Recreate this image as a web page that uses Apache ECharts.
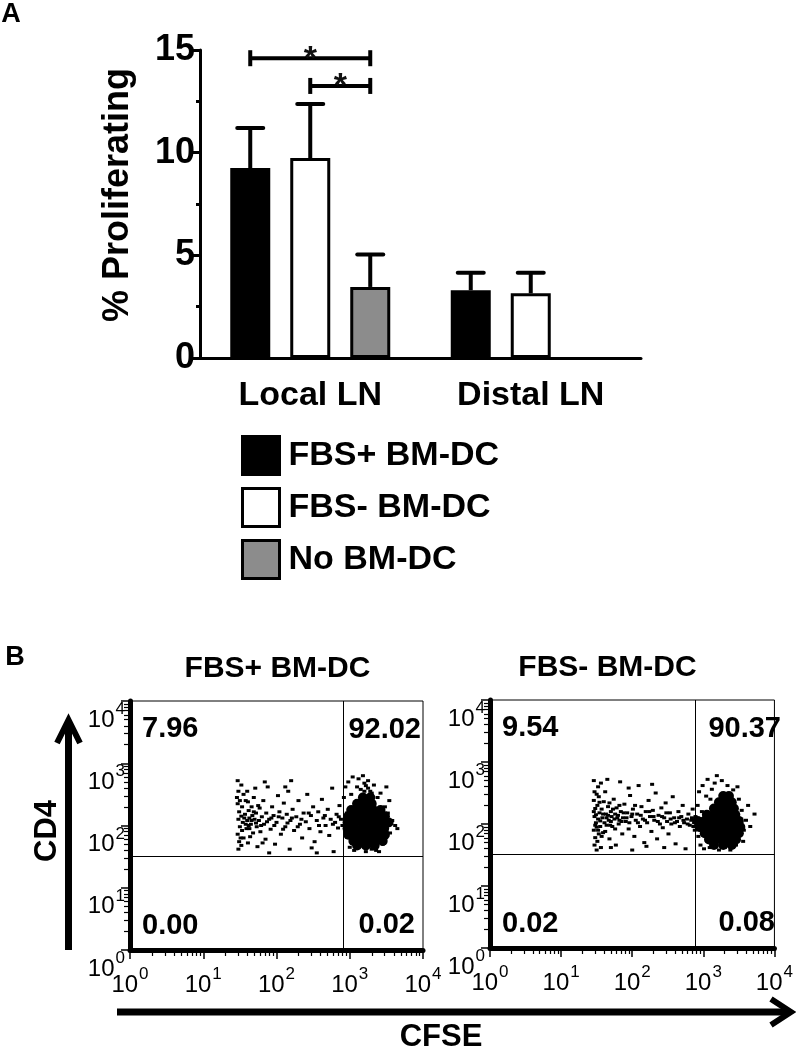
<!DOCTYPE html>
<html>
<head>
<meta charset="utf-8">
<script src="https://cdn.jsdelivr.net/npm/echarts@6/dist/echarts.min.js"></script>
<style>html,body{margin:0;padding:0;background:#fff}#c{width:796px;height:1050px}</style>
</head>
<body>
<div id="c"></div>
<script>
// ---------------- DATA ----------------
const categories = ['Local LN', 'Distal LN'];
const seriesNames = ['FBS+ BM-DC', 'FBS- BM-DC', 'No BM-DC'];
const fbsPlusMean = [9.25, 3.30];
const fbsPlusSem = [1.95, 0.85];
const fbsMinusMean = [9.74, 3.15];
const fbsMinusSem = [2.63, 1.00];
const noDcMean = [3.46, null];
const noDcSem = [1.58, null];
// [category index, bracket height, from bar, to bar]
const sigBrackets = [[0, 14.6, 0, 2], [0, 13.25, 1, 2]];
const yTicksA = [0, 5, 10, 15];

// flow cytometry panels (log10 CFSE, log10 CD4)
const flowTitles = ['FBS+ BM-DC', 'FBS- BM-DC'];
const fbsPlusQuad = ['7.96', '92.02', '0.00', '0.02'];
const fbsMinusQuad = ['9.54', '90.37', '0.02', '0.08'];
const fbsPlusGate = [2.91, 1.51];
const fbsMinusGate = [2.89, 1.51];

const fbsPlusEvents = [
 [1.47,2.72],[1.48,2.55],[1.47,2.35],[1.49,2.22],[1.48,2.10],[1.50,1.98],[1.47,1.86],[1.49,1.74],[1.48,1.62],[1.52,2.65],
 [1.53,2.30],[1.52,2.15],[1.54,2.05],[1.53,1.92],[1.55,1.80],[1.52,1.68],[1.58,2.40],[1.57,2.18],[1.60,2.08],[1.59,1.95],
 [1.62,2.24],[1.63,2.12],[1.61,1.72],[1.65,2.02],[1.66,2.30],[1.67,2.16],[1.68,1.88],[1.70,2.10],[1.71,2.60],[1.72,2.20],
 [1.73,1.98],[1.74,1.66],[1.60,2.55],[1.64,1.82],[1.69,2.45],[1.76,2.08],[1.77,2.28],[1.78,1.90],[1.56,2.12],[1.62,2.00],
 [1.80,2.14],[1.82,2.40],[1.83,2.02],[1.85,1.78],[1.86,2.20],[1.88,2.62],[1.90,2.10],[1.92,1.94],[1.94,2.30],[1.96,2.16],
 [1.98,1.70],[2.00,2.05],[2.02,2.48],[2.04,2.22],[2.06,1.86],[2.08,2.12],[2.10,2.36],[2.12,1.98],[2.14,2.18],[2.16,2.55],
 [2.18,1.62],[2.19,2.08],[2.22,2.26],[2.24,1.92],[2.27,2.14],[2.30,2.40],[2.32,2.02],[2.35,1.80],[2.37,2.20],[2.40,2.06],
 [2.42,2.50],[2.45,1.95],[2.47,2.16],[2.50,2.30],[2.52,1.74],[2.55,2.08],[2.57,2.22],[2.60,1.90],[2.62,2.42],[2.64,2.12],
 [2.67,2.00],[2.70,2.26],[2.72,1.84],[2.74,2.10],[2.76,2.60],[2.78,1.58],[2.80,2.05],[2.82,2.18],[2.84,1.96],[2.86,2.32],
 [2.88,2.10],[1.90,1.56],[2.55,1.56],[1.84,2.70],[2.20,2.72],
 [1.46,2.45],[1.50,2.40],[1.51,1.80],[1.55,2.50],[1.58,2.02],[1.61,2.38],[1.63,1.95],[1.66,2.08],[1.69,2.22],[1.72,2.04],
 [1.75,2.32],[1.79,2.00],[1.81,1.72],[1.87,2.06],[1.93,2.12],[1.97,2.00],[2.03,2.14],[2.09,1.94],[2.15,2.04],[2.21,2.12],
 [2.29,1.98],[2.34,2.10],[2.44,2.20],[2.58,2.00],[2.66,2.16],[2.77,2.02],[2.85,2.14],[2.90,2.00],[2.48,1.64],[2.12,2.62],
 [2.92,2.45],[2.94,2.62],[2.95,1.85],[2.96,2.20],[2.98,2.70],[3.00,1.65],[3.02,2.50],[3.04,2.78],[3.06,1.60],[3.10,2.62],
 [3.12,2.75],[3.15,2.58],[3.18,2.80],[3.20,2.68],[3.22,1.58],[3.25,2.72],[3.28,2.55],[3.30,1.62],[3.33,2.65],[3.36,1.60],
 [3.38,2.45],[3.42,2.52],[3.45,1.70],[3.48,2.30],[3.52,2.20],[3.55,1.88],[3.58,2.08],[3.62,2.00],[3.50,2.62],[3.40,1.58],
 [3.65,1.95],[3.08,1.72],[2.97,1.95],[3.54,2.40],[3.20,2.55],[3.25,2.60],[3.30,2.52],[3.22,2.64]
];
const fbsPlusCore = [
 [3.05,1.75],[3.15,1.75],[3.25,1.75],[3.35,1.75],[3.45,1.75],
 [2.98,1.85],[3.08,1.85],[3.18,1.85],[3.28,1.85],[3.38,1.85],[3.48,1.85],
 [2.97,1.95],[3.07,1.95],[3.17,1.95],[3.27,1.95],[3.37,1.95],[3.47,1.95],
 [2.97,2.05],[3.07,2.05],[3.17,2.05],[3.27,2.05],[3.37,2.05],[3.47,2.05],[3.53,2.05],
 [2.98,2.15],[3.08,2.15],[3.18,2.15],[3.28,2.15],[3.38,2.15],[3.48,2.15],
 [3.02,2.25],[3.12,2.25],[3.22,2.25],[3.32,2.25],[3.42,2.25],
 [3.10,2.35],[3.20,2.35],[3.30,2.35],[3.18,2.45],[3.28,2.45],
 [3.10,1.68],[3.22,1.68],[3.34,1.68]
];
const fbsMinusEvents = [
 [1.46,2.70],[1.47,2.52],[1.46,2.38],[1.48,2.25],[1.47,2.12],[1.49,2.02],[1.46,1.90],[1.48,1.78],[1.47,1.66],[1.50,1.58],
 [1.52,2.60],[1.53,2.44],[1.51,2.30],[1.54,2.18],[1.52,2.08],[1.55,1.96],[1.53,1.84],[1.51,1.72],[1.56,2.66],[1.57,2.24],
 [1.58,2.10],[1.56,1.62],[1.49,2.15],[1.50,1.95],[1.55,2.05],[1.59,1.86],
 [1.60,2.36],[1.61,2.02],[1.62,1.88],[1.63,2.16],[1.65,2.72],[1.66,2.28],[1.67,2.06],[1.68,1.76],[1.70,2.20],[1.71,2.12],
 [1.72,1.96],[1.74,2.40],[1.75,2.08],[1.77,1.66],[1.78,2.26],[1.80,2.14],[1.81,2.00],[1.83,2.68],[1.84,2.20],[1.86,1.84],
 [1.87,2.10],[1.89,2.32],[1.64,2.10],[1.69,1.98],[1.76,2.16],[1.82,2.06],
 [1.91,2.04],[1.93,2.18],[1.95,1.92],[1.97,2.46],[1.99,2.12],[2.01,2.24],[2.03,1.80],[2.05,2.06],[2.07,2.16],[2.09,2.62],
 [2.11,1.96],[2.13,2.28],[2.15,2.08],[2.17,1.70],[2.19,2.20],[2.21,2.02],[2.23,2.38],[2.25,2.12],[2.27,1.88],[2.29,2.22],
 [2.31,2.06],[2.33,2.50],[2.35,1.76],[2.37,2.14],[2.39,2.00],
 [2.41,2.26],[2.43,1.94],[2.45,2.10],[2.47,2.34],[2.49,2.04],[2.51,1.84],[2.53,2.18],[2.55,2.00],[2.57,2.44],[2.59,2.10],
 [2.61,1.68],[2.63,2.04],[2.65,2.20],[2.67,1.96],[2.69,2.12],[2.71,2.30],[2.73,2.02],[2.75,1.60],[2.77,2.08],[2.79,2.16],
 [2.81,1.98],[2.83,2.06],[2.85,2.24],[2.87,2.02],[2.88,1.90],[2.89,2.12],[2.00,1.58],[2.45,1.62],[1.95,2.58],[2.28,2.64],
 [1.46,2.20],[1.48,1.98],[1.50,2.48],[1.52,1.90],[1.54,2.35],[1.57,1.80],[1.59,2.16],[1.62,2.52],[1.64,1.98],[1.66,2.14],
 [1.68,2.34],[1.70,2.04],[1.73,2.24],[1.76,1.92],[1.79,2.10],[1.82,2.30],[1.85,2.04],[1.88,2.18],[1.92,2.10],[1.96,2.02],
 [2.00,2.16],[2.04,2.30],[2.08,2.02],[2.12,2.14],[2.18,2.06],[2.24,2.20],[2.30,2.12],[2.36,2.04],[2.42,2.12],[2.48,2.18],
 [2.54,2.08],[2.60,2.02],[2.66,2.10],[2.72,2.06],[2.78,2.00],[2.84,2.10],[2.86,1.96],[2.90,2.04],[1.70,1.62],[2.20,1.64],
 [2.92,2.30],[2.94,2.52],[2.93,1.80],[2.96,1.66],[2.99,2.62],[3.01,1.60],[3.04,2.45],[3.06,2.72],[3.09,1.62],[3.12,2.56],
 [3.16,2.66],[3.19,2.78],[3.22,1.58],[3.26,2.70],[3.30,1.62],[3.34,2.62],[3.38,1.58],[3.42,2.55],[3.46,1.66],[3.50,2.40],
 [3.54,2.22],[3.57,1.90],[3.60,2.06],[3.63,2.30],[3.66,1.96],[3.72,2.16],[3.56,1.72],[3.48,2.60],[3.10,2.40],[2.98,2.20]
];
const fbsMinusCore = [
 [3.08,1.75],[3.18,1.75],[3.28,1.75],[3.38,1.75],[3.46,1.75],
 [3.02,1.85],[3.12,1.85],[3.22,1.85],[3.32,1.85],[3.42,1.85],[3.50,1.85],
 [2.95,1.95],[3.05,1.95],[3.15,1.95],[3.25,1.95],[3.35,1.95],[3.45,1.95],[3.52,1.95],
 [2.92,2.05],[3.02,2.05],[3.12,2.05],[3.22,2.05],[3.32,2.05],[3.42,2.05],[3.50,2.05],
 [3.05,2.15],[3.15,2.15],[3.25,2.15],[3.35,2.15],[3.45,2.15],
 [3.15,2.25],[3.25,2.25],[3.35,2.25],[3.43,2.25],
 [3.22,2.35],[3.32,2.35],[3.40,2.35],[3.28,2.45],[3.36,2.45],
 [3.15,1.66],[3.28,1.66],[3.40,1.66]
];

// ---------------- LAYOUT / STYLE ----------------
const FONT = "'Liberation Sans', Arial, Helvetica, sans-serif";
const BAR_W = 40, BAR_GAP = 0.5;
const barOffset = k => (k - 1) * BAR_W * (1 + BAR_GAP);
const GA = {left: 200, top: 50, width: 441, height: 308};
const G1 = {left: 130, top: 701, width: 293, height: 249};
const G2 = {left: 490, top: 700, width: 293, height: 248};
const minorLog = [];
for (let d = 0; d < 4; d++) for (let k = 2; k <= 9; k++) minorLog.push(d + Math.log10(k));

const chart = echarts.init(document.getElementById('c'), null, {renderer: 'canvas'});

const supRich = {
  b: {fontSize: 24, fontFamily: FONT, color: '#000', lineHeight: 31, verticalAlign: 'bottom'},
  s: {fontSize: 17, fontFamily: FONT, color: '#000', lineHeight: 17, verticalAlign: 'top', padding: [0, 0, 0, 1]}
};
const supFmt = v => '{b|10}{s|' + Math.round(v) + '}';

function flowAxes(gi) {
  const x = [
    {gridIndex: gi, type: 'value', min: 0, max: 4, interval: 1, position: 'bottom',
     axisLine: {onZero: false, lineStyle: {color: '#000', width: 5}},
     axisTick: {length: 9, lineStyle: {color: '#000', width: 1.5}},
     axisLabel: {margin: 16, formatter: supFmt, rich: supRich, color: '#000', fontSize: 24, fontFamily: FONT},
     splitLine: {show: false}},
    {gridIndex: gi, type: 'value', min: 0, max: 4, position: 'bottom',
     axisLine: {show: false}, axisLabel: {show: false}, splitLine: {show: false},
     axisTick: {show: true, customValues: minorLog, length: 6, lineStyle: {color: '#000', width: 1.2}}}
  ];
  const y = [
    {gridIndex: gi, type: 'value', min: 0, max: 4, interval: 1, position: 'left',
     axisLine: {onZero: false, lineStyle: {color: '#000', width: 5}},
     axisTick: {length: 9, lineStyle: {color: '#000', width: 1.5}},
     axisLabel: {margin: 5, formatter: supFmt, rich: supRich, color: '#000', fontSize: 24, fontFamily: FONT, verticalAlign: 'top'},
     splitLine: {show: false}},
    {gridIndex: gi, type: 'value', min: 0, max: 4, position: 'left',
     axisLine: {show: false}, axisLabel: {show: false}, splitLine: {show: false},
     axisTick: {show: true, customValues: minorLog, length: 6, lineStyle: {color: '#000', width: 1.2}}}
  ];
  return {x, y};
}
const f1 = flowAxes(1), f2 = flowAxes(2);

const barColors = ['#000000', '#ffffff', '#8c8c8c'];
const means = [fbsPlusMean, fbsMinusMean, noDcMean];
const sems = [fbsPlusSem, fbsMinusSem, noDcSem];

const barSeries = seriesNames.map((n, k) => ({
  type: 'bar', name: n, xAxisIndex: 0, yAxisIndex: 0,
  data: means[k], barWidth: BAR_W, barGap: (BAR_GAP * 100) + '%',
  itemStyle: {color: barColors[k], borderColor: '#000', borderWidth: 3},
  silent: true, z: 2
}));

const errSeries = seriesNames.map((n, k) => ({
  type: 'custom', xAxisIndex: 0, yAxisIndex: 0, silent: true, z: 3,
  data: means[k].map((m, i) => m == null ? null : [i, m, sems[k][i]]).filter(d => d),
  encode: {x: 0, y: 1},
  renderItem: (p, api) => {
    const i = api.value(0), m = api.value(1), s = api.value(2);
    const base = api.coord([i, m]), top = api.coord([i, m + s]);
    const x = base[0] + barOffset(k);
    return {type: 'group', children: [
      {type: 'line', shape: {x1: x, y1: base[1], x2: x, y2: top[1]}, style: {stroke: '#000', lineWidth: 4}},
      {type: 'line', shape: {x1: x - 13, y1: top[1], x2: x + 13, y2: top[1]}, style: {stroke: '#000', lineWidth: 4, lineCap: 'round'}}
    ]};
  }
}));

const sigSeries = {
  type: 'custom', xAxisIndex: 0, yAxisIndex: 0, silent: true, z: 4,
  data: sigBrackets, encode: {x: 0, y: 1},
  renderItem: (p, api) => {
    const c = api.coord([api.value(0), api.value(1)]);
    const x1 = c[0] + barOffset(api.value(2)), x2 = c[0] + barOffset(api.value(3)), y = c[1];
    const xm = (x1 + x2) / 2;
    return {type: 'group', children: [
      {type: 'line', shape: {x1, y1: y, x2, y2: y}, style: {stroke: '#000', lineWidth: 4}},
      {type: 'line', shape: {x1, y1: y - 8, x2: x1, y2: y + 8}, style: {stroke: '#000', lineWidth: 4}},
      {type: 'line', shape: {x1: x2, y1: y - 8, x2, y2: y + 8}, style: {stroke: '#000', lineWidth: 4}},
      {type: 'text', x: xm, y: y + 1, style: {text: '*', font: 'bold 34px ' + FONT, fill: '#111',
        align: 'center', verticalAlign: 'middle', textAlign: 'center', textVerticalAlign: 'middle'}}
    ]};
  }
};

function flowSeries(xi, yi, events, core, gate) {
  return [
    {type: 'scatter', xAxisIndex: xi, yAxisIndex: yi, data: events, symbol: 'rect', symbolSize: [4, 3],
     itemStyle: {color: '#000', opacity: 1}, silent: true, z: 3,
     markLine: {silent: true, symbol: 'none', label: {show: false}, animation: false,
       lineStyle: {color: '#000', width: 1, type: 'solid', opacity: 1},
       data: [{xAxis: gate[0]}, {yAxis: gate[1]}]}},
    {type: 'scatter', xAxisIndex: xi, yAxisIndex: yi, data: core, symbol: 'circle', symbolSize: 10,
     itemStyle: {color: '#000', opacity: 1}, silent: true, z: 3}
  ];
}

function txt(text, x, y, size, opts = {}) {
  return Object.assign({type: 'text', x, y, silent: true,
    style: {text, font: (opts.weight || 'bold') + ' ' + size + 'px ' + FONT, fill: '#000',
      align: opts.align || 'center', verticalAlign: 'middle',
      textAlign: opts.align || 'center', textVerticalAlign: 'middle'}}, opts.rotation ? {rotation: opts.rotation} : {});
}
function quadTexts(g, q) {
  const r = g.left + g.width, b = g.top + g.height;
  return [
    txt(q[0], g.left + 12, g.top + 28, 29, {align: 'left'}),
    txt(q[1], r - 2, g.top + 29, 29, {align: 'right'}),
    txt(q[2], g.left + 12, b - 24, 29, {align: 'left'}),
    txt(q[3], r - 8, b - 25, 29, {align: 'right'})
  ];
}

const option = {
  animation: false,
  backgroundColor: '#fff',
  grid: [
    Object.assign({}, GA),
    Object.assign({show: true, borderColor: '#000', borderWidth: 1, backgroundColor: 'transparent'}, G1),
    Object.assign({show: true, borderColor: '#000', borderWidth: 1, backgroundColor: 'transparent'}, G2)
  ],
  legend: {
    orient: 'vertical', left: 236, top: 430, itemWidth: 37, itemHeight: 38, itemGap: 11,
    icon: 'rect', selectedMode: false, data: seriesNames,
    itemStyle: {borderColor: '#000', borderWidth: 3},
    textStyle: {fontFamily: FONT, fontSize: 34, fontWeight: 'bold', color: '#000', padding: [0, 0, 0, 4], lineHeight: 38}
  },
  xAxis: [
    {gridIndex: 0, type: 'category', data: categories,
     axisLine: {lineStyle: {color: '#000', width: 3}},
     axisTick: {alignWithLabel: true, length: 8, lineStyle: {color: '#000', width: 3}},
     axisLabel: {margin: 21, fontFamily: FONT, fontSize: 34, fontWeight: 'bold', color: '#000'}},
    f1.x[0], f1.x[1], f2.x[0], f2.x[1]
  ],
  yAxis: [
    {gridIndex: 0, type: 'value', min: 0, max: 15, interval: 5,
     axisLine: {show: true, lineStyle: {color: '#000', width: 3}},
     axisTick: {show: true, length: 7, lineStyle: {color: '#000', width: 3}},
     minorTick: {show: true, splitNumber: 2, length: 4, lineStyle: {color: '#000', width: 3}},
     splitLine: {show: false},
     axisLabel: {margin: 5, fontFamily: FONT, fontSize: 36, fontWeight: 'bold', color: '#000',
       formatter: v => yTicksA.includes(v) ? String(v) : ''}},
    f1.y[0], f1.y[1], f2.y[0], f2.y[1]
  ],
  series: [
    ...barSeries, ...errSeries, sigSeries,
    ...flowSeries(1, 1, fbsPlusEvents, fbsPlusCore, fbsPlusGate),
    ...flowSeries(3, 3, fbsMinusEvents, fbsMinusCore, fbsMinusGate)
  ],
  graphic: [
    txt('A', 11, 15, 27),
    txt('% Proliferating', 118, 195, 36, {rotation: Math.PI / 2}),
    txt('B', 15, 658, 27),
    txt(flowTitles[0], G1.left + G1.width / 2 + 1, 669, 30),
    txt(flowTitles[1], G2.left + G2.width / 2 - 29, 668, 30),
    ...quadTexts(G1, fbsPlusQuad),
    ...quadTexts(G2, fbsMinusQuad),
    txt('CD4', 47, 831, 31, {rotation: Math.PI / 2}),
    txt('CFSE', 441, 1037, 31),
    {type: 'line', silent: true, shape: {x1: 68.5, y1: 950, x2: 68.5, y2: 722}, style: {stroke: '#000', lineWidth: 7}},
    {type: 'polyline', silent: true, shape: {points: [[57, 743], [68.5, 720], [80, 743]]}, style: {stroke: '#000', lineWidth: 6, fill: null, lineJoin: 'miter'}},
    {type: 'line', silent: true, shape: {x1: 117, y1: 1012, x2: 788, y2: 1012}, style: {stroke: '#000', lineWidth: 7}},
    {type: 'polyline', silent: true, shape: {points: [[771, 999], [791, 1012], [771, 1025]]}, style: {stroke: '#000', lineWidth: 6, fill: null, lineJoin: 'miter'}}
  ]
};
chart.setOption(option);
</script>
</body>
</html>
